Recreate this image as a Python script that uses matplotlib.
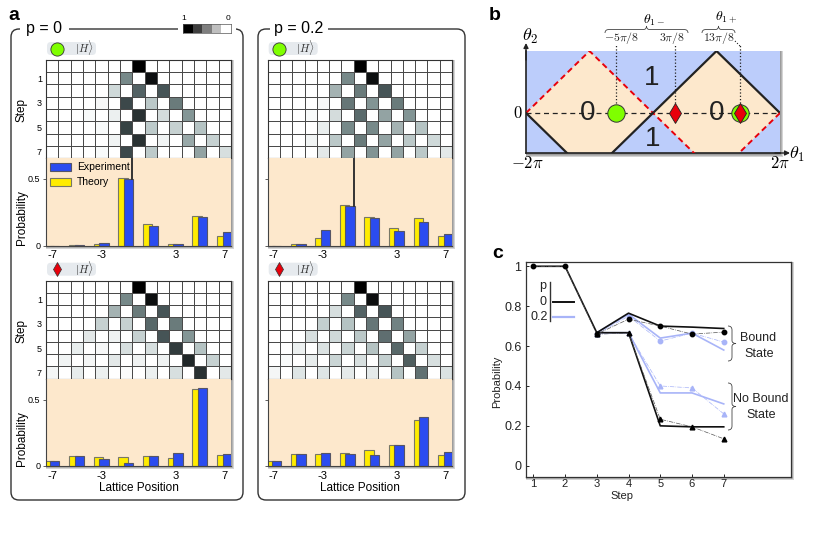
import numpy as np
import matplotlib
matplotlib.use("Agg")
import matplotlib.pyplot as plt
from matplotlib.colors import LinearSegmentedColormap
from matplotlib.patches import FancyBboxPatch, Rectangle, PathPatch
from matplotlib.path import Path

plt.rcParams['font.family'] = ['Liberation Sans', 'DejaVu Sans']
plt.rcParams['mathtext.fontset'] = 'cm'
plt.rcParams['axes.unicode_minus'] = False

W, H = 817, 549

# panel a data
lattice = [-7, -5, -3, -1, 1, 3, 5, 7]

theory_a1 = [0, 0.005, 0.015, 0.51, 0.165, 0.012, 0.22, 0.075]
exper_a1 = [0, 0.005, 0.02, 0.50, 0.148, 0.01, 0.212, 0.10]
theory_a2 = [0, 0.012, 0.055, 0.305, 0.218, 0.135, 0.205, 0.075]
exper_a2 = [0, 0.015, 0.115, 0.30, 0.205, 0.112, 0.175, 0.085]
theory_a3 = [0.033, 0.07, 0.065, 0.063, 0.07, 0.055, 0.578, 0.078]
exper_a3 = [0.033, 0.075, 0.053, 0.018, 0.07, 0.093, 0.59, 0.085]
theory_a4 = [0.033, 0.09, 0.09, 0.10, 0.116, 0.154, 0.35, 0.078]
exper_a4 = [0.033, 0.085, 0.095, 0.09, 0.08, 0.154, 0.37, 0.103]

# darkness of each cell in percent, rows are steps 0-7
heat_a1 = [
    [0, 0, 0, 0, 0, 0, 0, 100, 0, 0, 0, 0, 0, 0, 0],
    [0, 0, 0, 0, 0, 0, 52, 0, 95, 0, 0, 0, 0, 0, 0],
    [0, 0, 0, 0, 0, 20, 0, 68, 0, 74, 0, 0, 0, 0, 0],
    [0, 0, 0, 0, 4, 0, 78, 0, 28, 0, 58, 0, 0, 0, 0],
    [0, 0, 0, 3, 0, 8, 0, 85, 0, 18, 0, 47, 0, 0, 0],
    [0, 0, 0, 0, 3, 0, 80, 0, 27, 0, 24, 0, 30, 0, 0],
    [0, 0, 0, 0, 0, 6, 0, 85, 0, 6, 0, 40, 0, 24, 0],
    [0, 0, 0, 0, 3, 0, 78, 0, 27, 0, 0, 0, 42, 0, 17],
]
heat_a2 = [
    [0, 0, 0, 0, 0, 0, 0, 100, 0, 0, 0, 0, 0, 0, 0],
    [0, 0, 0, 0, 0, 0, 52, 0, 95, 0, 0, 0, 0, 0, 0],
    [0, 0, 0, 0, 0, 36, 0, 58, 0, 74, 0, 0, 0, 0, 0],
    [0, 0, 0, 0, 4, 0, 60, 0, 48, 0, 58, 0, 0, 0, 0],
    [0, 0, 0, 3, 0, 18, 0, 65, 0, 42, 0, 48, 0, 0, 0],
    [0, 0, 0, 0, 9, 0, 52, 0, 52, 0, 36, 0, 30, 0, 0],
    [0, 0, 0, 6, 0, 28, 0, 58, 0, 42, 0, 28, 0, 20, 0],
    [0, 0, 0, 0, 12, 0, 42, 0, 48, 0, 42, 0, 28, 0, 12],
]
heat_a3 = [
    [0, 0, 0, 0, 0, 0, 0, 100, 0, 0, 0, 0, 0, 0, 0],
    [0, 0, 0, 0, 0, 0, 52, 0, 95, 0, 0, 0, 0, 0, 0],
    [0, 0, 0, 0, 0, 36, 0, 58, 0, 74, 0, 0, 0, 0, 0],
    [0, 0, 0, 0, 24, 0, 24, 0, 66, 0, 58, 0, 0, 0, 0],
    [0, 0, 0, 12, 0, 7, 0, 24, 0, 74, 0, 47, 0, 0, 0],
    [0, 0, 9, 0, 4, 0, 17, 0, 17, 0, 82, 0, 30, 0, 0],
    [0, 6, 0, 5, 0, 12, 0, 7, 0, 7, 0, 88, 0, 24, 0],
    [5, 0, 10, 0, 8, 0, 2, 0, 8, 0, 17, 0, 85, 0, 12],
]
heat_a4 = [
    [0, 0, 0, 0, 0, 0, 0, 100, 0, 0, 0, 0, 0, 0, 0],
    [0, 0, 0, 0, 0, 0, 52, 0, 95, 0, 0, 0, 0, 0, 0],
    [0, 0, 0, 0, 0, 17, 0, 68, 0, 74, 0, 0, 0, 0, 0],
    [0, 0, 0, 0, 25, 0, 30, 0, 60, 0, 55, 0, 0, 0, 0],
    [0, 0, 0, 17, 0, 20, 0, 28, 0, 63, 0, 42, 0, 0, 0],
    [0, 0, 8, 0, 15, 0, 22, 0, 30, 0, 66, 0, 24, 0, 0],
    [0, 3, 0, 10, 0, 22, 0, 17, 0, 25, 0, 70, 0, 17, 0],
    [5, 0, 14, 0, 14, 0, 11, 0, 11, 0, 30, 0, 62, 0, 15],
]

# panel b data (in units of pi)
corners_left = [-2, -1, 0, -1, -2]
corners_y = [0, 1, 0, -1, 0]
corners_right = [0, 1, 2, 1, 0]
theta_circle = [-0.59, 1.37]
theta_diamond = [0.35, 1.37]

# panel c data
steps = [1, 2, 3, 4, 5, 6, 7]
steps_nb = [3, 4, 5, 6, 7]
bound_p0 = [1, 1, 0.667, 0.765, 0.70, 0.695, 0.688]
bound_p0_exp = [1, 1, 0.66, 0.735, 0.70, 0.66, 0.67]
bound_p2 = [0.667, 0.76, 0.64, 0.665, 0.58]
bound_p2_exp = [0.66, 0.75, 0.625, 0.665, 0.62]
nobound_p0 = [0.667, 0.667, 0.2, 0.195, 0.195]
nobound_p0_exp = [0.66, 0.665, 0.233, 0.195, 0.135]
nobound_p2 = [0.667, 0.667, 0.365, 0.365, 0.31]
nobound_p2_exp = [0.66, 0.665, 0.40, 0.39, 0.26]

YELLOW = '#ffec00'
BLUE = '#2b4cf0'
PEACH = '#fde8cc'
SKY = '#bccdfb'
LIGHT = '#a8b4f8'
GREEN = '#7fff00'
RED = '#e8000b'
cell_cmap = LinearSegmentedColormap.from_list(
    'cells', ['#ffffff', '#c3cfcf', '#7c8e8e', '#445254', '#000000'])

fig = plt.figure(figsize=(W / 100, H / 100), dpi=100, facecolor='white')


def px_axes(x0, y0, x1, y1, zorder=5):
    return fig.add_axes([x0 / W, 1 - y1 / H, (x1 - x0) / W, (y1 - y0) / H], zorder=zorder)


def overlay(zorder):
    ax = fig.add_axes([0, 0, 1, 1], zorder=zorder)
    ax.set_xlim(0, W)
    ax.set_ylim(H, 0)
    ax.axis('off')
    ax.patch.set_alpha(0)
    return ax


bg = overlay(0)
fg = overlay(10)


def shadow(x0, y0, x1, y1):
    for i in (3.5, 2.5, 1.5):
        bg.add_patch(Rectangle((x0, y0), x1 - x0 + i, y1 - y0 + i, fc='#555555',
                               ec='none', alpha=0.25))


def brace(x0, y0, x1, y1, bump=4):
    # curly brace between two points, the tip points away by bump pixels
    horiz = abs(x1 - x0) > abs(y1 - y0)
    if horiz:
        m = (x0 + x1) / 2
        v = [(x0, y0), (x0, y0 - bump), (x0 + 4, y0 - bump), (m - 3, y0 - bump), (m, y0 - bump),
             (m, y0 - 2 * bump), (m, y0 - bump), (m + 3, y0 - bump), (x1 - 4, y0 - bump),
             (x1, y0 - bump), (x1, y0)]
    else:
        m = (y0 + y1) / 2
        v = [(x0, y0), (x0 + bump, y0), (x0 + bump, y0 + 4), (x0 + bump, m - 3), (x0 + bump, m),
             (x0 + 2 * bump, m), (x0 + bump, m), (x0 + bump, m + 3), (x0 + bump, y1 - 4),
             (x0 + bump, y1), (x1, y1)]
    codes = [Path.MOVETO, Path.CURVE3, Path.CURVE3, Path.LINETO, Path.CURVE3, Path.CURVE3,
             Path.CURVE3, Path.CURVE3, Path.LINETO, Path.CURVE3, Path.CURVE3]
    fg.add_patch(PathPatch(Path(v, codes), fc='none', ec='#444444', lw=0.6))


def walk_panel(x0, x1, top, heat, theory, exper, marker, left_labels, xlabel, ymax_px, scale, spike=False):
    mid = top + 98
    bottom = mid + ymax_px
    shadow(x0, top, x1, bottom)

    ax_h = px_axes(x0, top, x1, mid)
    ax_h.pcolormesh(np.array(heat), cmap=cell_cmap, vmin=0, vmax=100,
                    edgecolors='#4a4a4a', linewidth=0.7)
    ax_h.set_xlim(0, 15)
    ax_h.set_ylim(8, 0)
    ax_h.set_xticks([])
    ax_h.set_yticks([1.5, 3.5, 5.5, 7.5] if left_labels else [])
    if left_labels:
        ax_h.set_yticklabels(['1', '3', '5', '7'], fontsize=6.5)
        ax_h.tick_params(axis='y', length=0, pad=3)
        fg.text(x0 - 24, (top + mid) / 2 + 1, 'Step', rotation=90, fontsize=8.5, ha='center', va='center')
    for s in ax_h.spines.values():
        s.set_color('#333333')
        s.set_linewidth(0.8)

    ax_b = px_axes(x0, mid, x1, bottom)
    ax_b.set_facecolor(PEACH)
    xs = np.array(lattice)
    ymax = ymax_px / scale
    ax_b.bar(xs - 0.25, theory, width=0.76, color=YELLOW, edgecolor='#777766', linewidth=0.8, label='Theory')
    ax_b.bar(xs + 0.2, exper, width=0.76, color=BLUE, edgecolor='#555566', linewidth=0.8, label='Experiment')
    if spike:
        ax_b.plot([-0.5, -0.5], [exper[3], ymax], color='#333333', lw=1.4)
    ax_b.set_xlim(-7.5, 7.5)
    ax_b.set_ylim(0, ymax)
    ax_b.set_xticks([-7, -3, 3, 7])
    ax_b.set_xticklabels(['-7', '-3', '3', '7'], fontsize=8)
    ax_b.tick_params(axis='x', length=0, pad=3.5)
    ax_b.set_yticks([0, 0.5])
    if left_labels:
        ax_b.set_yticklabels(['0', '0.5'], fontsize=6.5)
        fg.text(x0 - 24, mid + 60, 'Probability', rotation=90, fontsize=8.5, ha='center', va='center')
    else:
        ax_b.set_yticklabels([])
    ax_b.tick_params(axis='y', length=2.5, width=0.6, pad=1.5, color='#444444')
    for name, s in ax_b.spines.items():
        s.set_visible(name in ('left', 'bottom'))
        s.set_color('#444444')
    if xlabel:
        fg.text((x0 + x1) / 2 - 0, bottom + 22, 'Lattice Position', fontsize=8.5, ha='center', va='center')

    # state pill over the grid
    py = top - 11.5
    bg.add_patch(FancyBboxPatch((x0 + 1, py - 6.5), 49, 13, boxstyle='round,pad=0,rounding_size=4',
                                fc='#e6eaee', ec='none'))
    if marker == 'o':
        fg.plot([x0 + 11], [py], 'o', ms=9.5, mfc=GREEN, mec='#333333', mew=0.6)
    else:
        fg.plot([x0 + 11], [py], 'd', ms=7, mfc=RED, mec='#333333', mew=0.5)
    fg.text(x0 + 38, py - 0.5, r'$|H\rangle$', fontsize=8, ha='center', va='center', color='#333333')
    return ax_b


# frames round panel a
for fx0, fx1, label, lx0, lx1 in [(11, 243, 'p = 0', 20, 69), (258, 465, 'p = 0.2', 270, 328)]:
    bg.add_patch(FancyBboxPatch((fx0, 29), fx1 - fx0, 471, boxstyle='round,pad=0,rounding_size=8',
                                fc='white', ec='#333333', lw=1.0))
    bg.add_patch(Rectangle((lx0, 25), lx1 - lx0, 8, fc='white', ec='none', zorder=3))
    fg.text((lx0 + lx1) / 2, 29, label, fontsize=11.5, ha='center', va='center')
bg.add_patch(Rectangle((178, 20), 58, 16, fc='white', ec='none', zorder=3))

ax_b1 = walk_panel(46, 231, 60, heat_a1, theory_a1, exper_a1, 'o', True, False, 87.5, 133, spike=True)
walk_panel(267.7, 452, 60, heat_a2, theory_a2, exper_a2, 'o', False, False, 87.5, 133, spike=True)
walk_panel(46, 231, 280.7, heat_a3, theory_a3, exper_a3, 'd', True, True, 87, 132)
walk_panel(267.7, 452, 280.7, heat_a4, theory_a4, exper_a4, 'd', False, True, 87, 132)

handles, labels = ax_b1.get_legend_handles_labels()
ax_b1.legend(handles[::-1], labels[::-1], loc='upper left', frameon=False, fontsize=7.5,
             handlelength=2.0, handleheight=0.8, borderaxespad=0.1, borderpad=0.3,
             labelspacing=0.5, handletextpad=0.6)

# grey scale key
ax_key = px_axes(183.3, 24, 231, 33)
ax_key.pcolormesh(np.array([[100, 75, 50, 25, 0]]), cmap='gray_r', vmin=0, vmax=100)
ax_key.set_xticks([])
ax_key.set_yticks([])
for s in ax_key.spines.values():
    s.set_linewidth(0.5)
    s.set_color('#555555')
fg.text(183.5, 18, '1', fontsize=6, ha='center', va='center')
fg.text(228.5, 18, '0', fontsize=6, ha='center', va='center')

# panel b
shadow(526, 51, 780, 153)
ax2 = px_axes(526, 51, 780, 153)
ax2.set_facecolor(SKY)
ax2.fill(corners_left, corners_y, color=PEACH, zorder=1, lw=0)
ax2.fill(corners_right, corners_y, color=PEACH, zorder=1, lw=0)
ax2.plot(corners_left[:3], corners_y[:3], color=RED, ls=(0, (3, 2)), lw=1.4, zorder=3)
ax2.plot(corners_left[2:], corners_y[2:], color='#222222', lw=1.6, zorder=3)
ax2.plot(corners_right[:3], corners_y[:3], color='#222222', lw=1.6, zorder=3)
ax2.plot(corners_right[2:], corners_y[2:], color=RED, ls=(0, (3, 2)), lw=1.4, zorder=3)
ax2.axhline(0, color='#222222', ls=(0, (4, 3)), lw=0.9, zorder=4)
ax2.plot(theta_circle, [0, 0], 'o', ms=12.5, mfc=GREEN, mec='#333333', mew=0.7, zorder=6)
ax2.plot(theta_diamond, [0, 0], 'd', ms=10.5, mfc=RED, mec='#222222', mew=0.6, zorder=7)
for t, y in zip(theta_circle[:1] + theta_diamond, [1.1, 1.1, 1.1]):
    ax2.plot([t, t], [0, y], color='#222222', ls=':', lw=0.9, zorder=5, clip_on=False)
ax2.set_xlim(-2, 2)
ax2.set_ylim(-40 / 62, 1)
ax2.set_xticks([])
ax2.set_yticks([])
for name, s in ax2.spines.items():
    s.set_visible(name in ('left', 'bottom'))
    s.set_color('#222222')
    s.set_linewidth(1.2)
fg.annotate('', xy=(526, 43), xytext=(526, 60), arrowprops=dict(arrowstyle='-|>', color='#222222', lw=1, mutation_scale=7, shrinkA=0, shrinkB=0))
fg.annotate('', xy=(790, 153), xytext=(775, 153), arrowprops=dict(arrowstyle='-|>', color='#222222', lw=1, mutation_scale=7, shrinkA=0, shrinkB=0))
fg.text(588, 113, '0', fontsize=20, ha='center', va='center', color='#222222')
fg.text(717, 113, '0', fontsize=20, ha='center', va='center', color='#222222')
fg.text(652, 78, '1', fontsize=20, ha='center', va='center', color='#222222')
fg.text(653, 139, '1', fontsize=20, ha='center', va='center', color='#222222')
fg.text(530, 36, r'$\theta_2$', fontsize=13, ha='center', va='center')
fg.text(518, 113, r'$0$', fontsize=12, ha='center', va='center')
fg.text(527, 163, r'$-2\pi$', fontsize=12, ha='center', va='center')
fg.text(780, 163, r'$2\pi$', fontsize=12, ha='center', va='center')
fg.text(797, 154, r'$\theta_1$', fontsize=13, ha='center', va='center')
fg.text(622, 38, r'$-5\pi/8$', fontsize=8.5, ha='center', va='center', color='#222222')
fg.text(672, 38, r'$3\pi/8$', fontsize=8.5, ha='center', va='center', color='#222222')
fg.text(719, 38, r'$13\pi/8$', fontsize=8.5, ha='center', va='center', color='#222222')
fg.text(654, 20, r'$\theta_{1-}$', fontsize=10, ha='center', va='center')
fg.text(726, 18, r'$\theta_{1+}$', fontsize=10, ha='center', va='center')
brace(605, 33, 688, 33, bump=3.5)
brace(702, 33, 735, 33, bump=3.5)
fg.plot([735, 740], [41, 46], color='#222222', ls=':', lw=0.8)

# panel c
shadow(525.7, 261.7, 790.7, 476.7)
ax3 = px_axes(525.7, 261.7, 790.7, 476.7)
ax3.plot(steps, bound_p0, color='#111111', lw=1.2, zorder=4)
ax3.plot(steps_nb, nobound_p0, color='#111111', lw=1.2, zorder=4)
ax3.plot(steps[2:], bound_p2, color=LIGHT, lw=1.2, zorder=3)
ax3.plot(steps_nb, nobound_p2, color=LIGHT, lw=1.2, zorder=3)
ax3.plot(steps[2:], bound_p2_exp, color=LIGHT, ls='-.', lw=0.5, marker='o', ms=3.2, zorder=3)
ax3.plot(steps_nb, nobound_p2_exp, color=LIGHT, ls='-.', lw=0.5, marker='^', ms=3.4, zorder=3)
ax3.plot(steps, bound_p0_exp, color='#555555', ls='-.', lw=0.5, marker='o', ms=3.2, mfc='black', mec='black', zorder=5)
ax3.plot(steps_nb, nobound_p0_exp, color='#555555', ls='-.', lw=0.5, marker='^', ms=3.4, mfc='black', mec='black', zorder=5)
ax3.set_xlim(0.76, 9.11)
ax3.set_ylim(-0.055, 1.023)
ax3.set_xticks(steps)
ax3.set_yticks([0, 0.2, 0.4, 0.6, 0.8, 1])
ax3.set_yticklabels(['0', '0.2', '0.4', '0.6', '0.8', '1'], fontsize=9, color='#222222')
ax3.tick_params(axis='x', labelsize=8, direction='in', length=2.5, width=0.6, pad=1.5, labelcolor='#222222')
ax3.tick_params(axis='y', direction='in', length=2.5, width=0.6, pad=3)
for s in ax3.spines.values():
    s.set_color('#333333')
    s.set_linewidth(0.9)
fg.text(497, 382, 'Probability', rotation=90, fontsize=8, ha='center', va='center', color='#222222')
fg.text(622, 496, 'Step', fontsize=8, ha='center', va='center', color='#222222')

fg.text(543, 286, 'p', fontsize=9, ha='center', va='center', color='#222222')
fg.text(543, 302, '0', fontsize=9, ha='center', va='center', color='#222222')
fg.text(539, 317, '0.2', fontsize=9, ha='center', va='center', color='#222222')
fg.plot([549.7, 549.7], [282, 321], color='#333333', lw=1)
fg.plot([553, 574], [302, 302], color='#111111', lw=1.4)
fg.plot([553, 574], [317, 317], color=LIGHT, lw=1.6)
brace(728, 326, 728, 361, bump=4)
brace(728, 383, 728, 430, bump=4)
fg.text(758, 338, 'Bound', fontsize=9, ha='center', va='center', color='#222222')
fg.text(759, 354, 'State', fontsize=9, ha='center', va='center', color='#222222')
fg.text(761, 399, 'No Bound', fontsize=9, ha='center', va='center', color='#222222')
fg.text(761, 415, 'State', fontsize=9, ha='center', va='center', color='#222222')

# panel letters
fg.text(14, 15, 'a', fontsize=14, fontweight='bold', ha='center', va='center')
fg.text(495, 15, 'b', fontsize=14, fontweight='bold', ha='center', va='center')
fg.text(498, 254, 'c', fontsize=14, fontweight='bold', ha='center', va='center')

fig.savefig('out.png', dpi=100)
